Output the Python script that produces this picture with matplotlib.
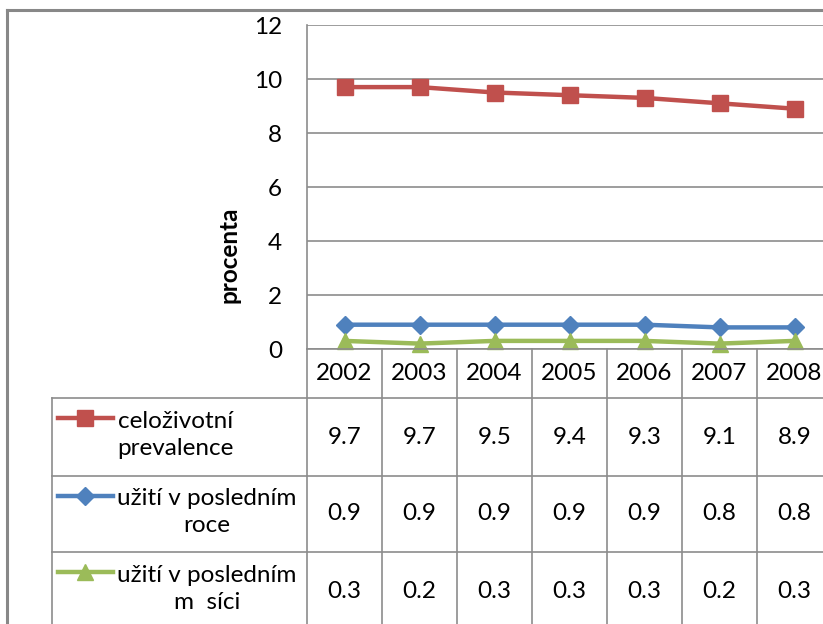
import matplotlib
matplotlib.use("Agg")
import matplotlib.pyplot as plt
from matplotlib.lines import Line2D

# data
years = ["2002", "2003", "2004", "2005", "2006", "2007", "2008"]
lifetime = [9.7, 9.7, 9.5, 9.4, 9.3, 9.1, 8.9]
last_year = [0.9, 0.9, 0.9, 0.9, 0.9, 0.8, 0.8]
last_month = [0.3, 0.2, 0.3, 0.3, 0.3, 0.2, 0.3]
labels = ["celoživotní\nprevalence", "užití v posledním\nroce", "užití v posledním\nm  síci"]
yticks = [0, 2, 4, 6, 8, 10, 12]

series = [lifetime, last_year, last_month]
colors = ["#C0504D", "#4F81BD", "#9BBB59"]
markers = ["s", "D", "^"]
msizes = [11, 9, 11]

plt.rcParams['font.family'] = ['Lato', 'DejaVu Sans']
FS = 17.5
W, H = 823, 624
fig = plt.figure(figsize=(W / 100, H / 100), dpi=100)

# pixel layout
px_left, px_top, px_bottom = 307, 25, 349
col_w = 75
px_right = px_left + col_w * len(years)
grid_c = "#8C8C8C"

ax = fig.add_axes([px_left / W, 1 - px_bottom / H,
                   (px_right - px_left) / W, (px_bottom - px_top) / H])
x = list(range(len(years)))
for vals, c, m, ms in zip(series, colors, markers, msizes):
    ax.plot(x, vals, color=c, lw=3.2, marker=m, ms=ms, mec=c, clip_on=False, zorder=3)
ax.set_xlim(-0.5, len(years) - 0.5)
ax.set_ylim(0, 12)
ax.set_yticks(yticks)
ax.set_xticks([])
ax.tick_params(axis='y', length=0, labelsize=FS, pad=18)
ax.grid(axis='y', color=grid_c, lw=1.2)
for s in ["top", "right", "bottom"]:
    ax.spines[s].set_visible(False)
ax.spines["left"].set_color(grid_c)
ax.spines["left"].set_linewidth(1.2)
ax.set_ylabel("procenta", fontsize=FS, fontweight="bold")
ax.yaxis.set_label_coords((240 - px_left) / (px_right - px_left),
                          (px_bottom - 255) / (px_bottom - px_top))

# overlay for the data table, in pixel coordinates
ov = fig.add_axes([0, 0, 1, 1])
ov.set_xlim(0, W)
ov.set_ylim(H, 0)
ov.axis("off")

def hline(y, x0, x1, lw=1.2, c=grid_c):
    ov.add_line(Line2D([x0, x1], [y, y], color=c, lw=lw))

def vline(x0, y0, y1, lw=1.2, c=grid_c):
    ov.add_line(Line2D([x0, x0], [y0, y1], color=c, lw=lw))

# outer chart border
hline(10, 7, W, lw=2.2, c="#888888")
vline(7, 10, H, lw=2.2, c="#888888")

row_edges = [349, 398, 476, 552, 630]
leg_left = 52
hline(row_edges[0], px_left, W + 20)
for y in row_edges[1:]:
    hline(y, leg_left, W + 20)
vline(leg_left, row_edges[1], H + 10)
for i in range(len(years) + 1):
    vline(px_left + i * col_w, row_edges[0], H + 10)

# header years
for i, yr in enumerate(years):
    ov.text(px_left + (i + 0.5) * col_w, (row_edges[0] + row_edges[1]) / 2, yr,
            ha="center", va="center", fontsize=FS)

# rows: legend key, label, values
for r, (vals, lab, c, m, ms) in enumerate(zip(series, labels, colors, markers, msizes)):
    yc = (row_edges[r + 1] + row_edges[r + 2]) / 2
    ky = row_edges[r + 1] + 20
    ov.add_line(Line2D([58, 113], [ky, ky], color=c, lw=3.2))
    ov.plot([85.5], [ky], marker=m, ms=ms, color=c, mec=c)
    ov.text(117, yc - 2, lab, ha="left", va="center", fontsize=FS,
            multialignment="center", linespacing=1.35)
    for i, v in enumerate(vals):
        ov.text(px_left + (i + 0.5) * col_w, yc, f"{v:.1f}",
                ha="center", va="center", fontsize=FS)

fig.savefig("out.png", dpi=100)
